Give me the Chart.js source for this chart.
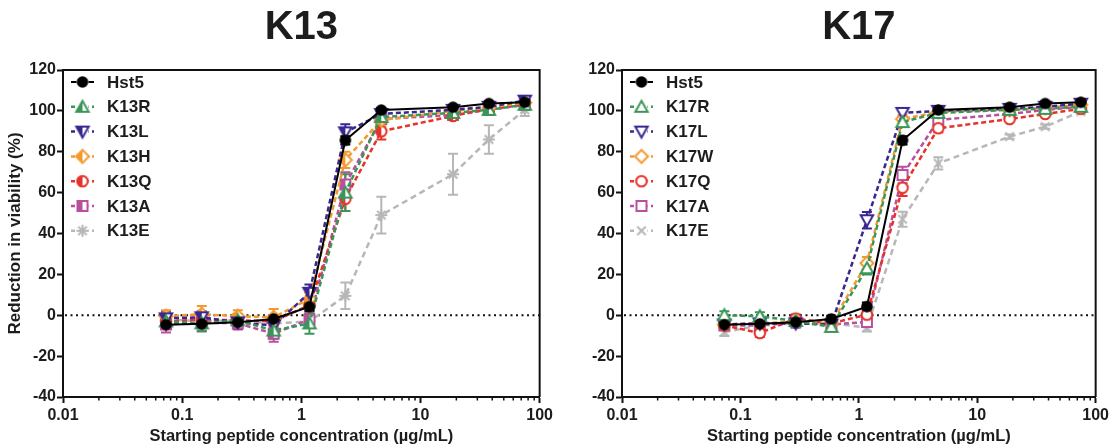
<!DOCTYPE html>
<html>
<head>
<meta charset="utf-8">
<title>Viability reduction - K13 / K17 variants</title>
<script src="https://cdn.jsdelivr.net/npm/chart.js@4"></script>
<style>
  html, body { margin: 0; padding: 0; background: #fff; }
  #wrap { position: relative; width: 1112px; height: 446px; }
  canvas { position: absolute; top: 0; }
  #k13 { left: 0; }
  #k17 { left: 556px; }
</style>
</head>
<body>
<div id="wrap">
  <canvas id="k13" width="556" height="446"></canvas>
  <canvas id="k17" width="556" height="446"></canvas>
</div>
<script>
// starting peptide concentrations (ug/mL)
var conc = [0.0732, 0.146, 0.293, 0.586, 1.17, 2.34, 4.69, 18.75, 37.5, 75];
var xTicks = [0.01, 0.1, 1, 10, 100];

// reference peptide, same in both panels
var hst5    = [-4.6, -4.2, -3.4, -1.8, 4.2, 85.6, 100.4, 101.8, 103.6, 104.2];
var hst5Err = [1.5, 1.5, 1.5, 1.5, 2, 2, 1, 1, 1, 1];

// K13 variants
var k13R    = [-3, -4, -2.5, -7.5, -4, 60, 97, 99, 100.5, 103];
var k13RErr = [3, 4, 3, 4, 5, 9, 2, 2, 2, 2];
var k13L    = [-1.5, -1, -3.5, -5, 11, 89.5, 98.5, 100.5, 102, 105];
var k13LErr = [3, 3, 3, 3, 4, 4, 2, 2, 2, 2];
var k13H    = [-0.5, 0.5, -0.5, -1, 8, 76, 95.5, 100, 101.5, 104];
var k13HErr = [3, 4, 3, 4, 3, 4, 3, 2, 2, 2];
var k13Q    = [-3, -2, -2.5, -3, 5, 57, 90, 97.5, 101, 103.5];
var k13QErr = [3, 3, 3, 3, 3, 6, 4, 2, 2, 2];
var k13A    = [-4.5, -3.5, -4, -9, -2, 64, 96, 98, 100.5, 103];
var k13AErr = [4, 4, 3, 4, 3, 6, 2, 2, 2, 2];
var k13E    = [-2, -3, -2.5, -4, -3, 9.5, 49, 69, 86, 100.5];
var k13EErr = [3, 3, 3, 3, 3, 6.5, 9, 10, 7, 3];

// K17 variants
var k17R    = [0, -0.5, -2.8, -5.7, 23, 94.5, 99, 100.5, 101, 102];
var k17RErr = [2, 2, 2, 2, 3, 2, 1, 1, 1, 1];
var k17L    = [-4.5, -4, -4, -4.5, 46.5, 99, 100, 101, 102, 103.5];
var k17LErr = [2, 2, 2, 2, 4, 2, 1, 1, 1, 1];
var k17W    = [-4.5, -4, -3, -4, 25.5, 96, 99.5, 100.5, 101.5, 103];
var k17WErr = [2, 2, 2, 2, 3, 2, 1, 1, 1, 1];
var k17Q    = [-5, -8.7, -1.6, -4, 0.3, 62.4, 91.5, 96, 98.5, 101];
var k17QErr = [2, 2, 2, 2, 2, 4, 2, 1, 1, 1];
var k17A    = [-5, -5, -3, -4.5, -3.3, 68.6, 95.6, 98.5, 100.5, 102];
var k17AErr = [2, 2, 2, 2, 2, 4, 2, 1, 1, 1];
var k17E    = [-8.2, -5, -4, -4, -6, 47, 74.3, 87.4, 92.3, 99.7];
var k17EErr = [2, 2, 2, 2, 2, 3.7, 3, 1, 1, 1];

var GREEN = '#3a9658', NAVY = '#3b2590', ORANGE = '#f29a30',
    RED = '#e5322b', PINK = '#b84f9f', GREY = '#b7b7b7', INK = '#1c1c1c';

Chart.defaults.font.family = '"Liberation Sans", Arial, sans-serif';
Chart.defaults.font.weight = 'bold';
Chart.defaults.color = INK;

// small canvas markers so points and legend share the same glyph
function marker(shape, color, half) {
  var c = document.createElement('canvas');
  c.width = 18; c.height = 18;
  var ctx = c.getContext('2d');
  ctx.translate(9, 9);
  function path() {
    ctx.beginPath();
    if (shape === 'circle') ctx.arc(0, 0, 5.3, 0, Math.PI * 2);
    else if (shape === 'square') ctx.rect(-5, -5, 10, 10);
    else if (shape === 'diamond') { ctx.moveTo(0, -6.5); ctx.lineTo(6.5, 0); ctx.lineTo(0, 6.5); ctx.lineTo(-6.5, 0); ctx.closePath(); }
    else if (shape === 'triangle') { ctx.moveTo(0, -6); ctx.lineTo(6.2, 5); ctx.lineTo(-6.2, 5); ctx.closePath(); }
    else if (shape === 'triangleDown') { ctx.moveTo(0, 6); ctx.lineTo(6.2, -5); ctx.lineTo(-6.2, -5); ctx.closePath(); }
  }
  ctx.lineWidth = 2;
  ctx.strokeStyle = color;
  ctx.fillStyle = color;
  if (shape === 'dot') {
    ctx.beginPath(); ctx.arc(0, 0, 5.8, 0, Math.PI * 2); ctx.fill();
    return c;
  }
  if (shape === 'star' || shape === 'cross') {
    var arms = shape === 'star' ? [0, 45, 90, 135] : [45, 135];
    ctx.beginPath();
    arms.forEach(function (deg) {
      var r = deg * Math.PI / 180, dx = Math.cos(r) * 6, dy = Math.sin(r) * 6;
      ctx.moveTo(-dx, -dy); ctx.lineTo(dx, dy);
    });
    ctx.stroke();
    return c;
  }
  path(); ctx.fillStyle = '#fff'; ctx.fill();
  if (half) {
    ctx.save();
    ctx.beginPath(); ctx.rect(-9, -9, 9, 18); ctx.clip();
    path(); ctx.fillStyle = color; ctx.fill();
    ctx.restore();
  }
  path(); ctx.stroke();
  return c;
}

function pts(ys) {
  return conc.map(function (c, i) { return { x: c, y: ys[i] }; });
}

function series(label, ys, err, color, shape, half, dash) {
  return {
    label: label,
    data: pts(ys),
    errors: err,
    borderColor: color,
    backgroundColor: color,
    borderWidth: dash ? 2.5 : 2,
    borderDash: dash || [],
    pointStyle: marker(shape, color, half),
    pointRadius: 6,
    tension: 0,
    fill: false
  };
}

var errorBars = {
  id: 'errorBars',
  beforeDatasetsDraw: function (chart) {
    var ctx = chart.ctx, ys = chart.scales.y;
    ctx.save();
    ctx.lineWidth = 2;
    for (var i = chart.data.datasets.length - 1; i >= 0; i--) {
      var ds = chart.data.datasets[i];
      if (!ds.errors) continue;
      ctx.strokeStyle = ds.borderColor;
      chart.getDatasetMeta(i).data.forEach(function (p, j) {
        var v = ds.data[j].y, e = ds.errors[j];
        var top = ys.getPixelForValue(v + e), bot = ys.getPixelForValue(v - e);
        ctx.beginPath();
        ctx.moveTo(p.x, top); ctx.lineTo(p.x, bot);
        ctx.moveTo(p.x - 5, top); ctx.lineTo(p.x + 5, top);
        ctx.moveTo(p.x - 5, bot); ctx.lineTo(p.x + 5, bot);
        ctx.stroke();
      });
    }
    ctx.restore();
  }
};

// zero line, box, minor log ticks, panel title and inset legend
var frame = {
  id: 'frame',
  beforeDatasetsDraw: function (chart) {
    var a = chart.chartArea, ctx = chart.ctx;
    var y0 = chart.scales.y.getPixelForValue(0);
    ctx.save();
    ctx.setLineDash([2, 3.5]);
    ctx.lineWidth = 2;
    ctx.strokeStyle = '#111';
    ctx.beginPath(); ctx.moveTo(a.left + 2, y0); ctx.lineTo(a.right, y0); ctx.stroke();
    ctx.restore();
  },
  afterDraw: function (chart, args, opts) {
    var a = chart.chartArea, ctx = chart.ctx, xs = chart.scales.x;
    ctx.save();
    ctx.strokeStyle = '#111';
    ctx.lineWidth = 2;
    ctx.beginPath();
    ctx.moveTo(a.left, a.top); ctx.lineTo(a.right, a.top); ctx.lineTo(a.right, a.bottom);
    ctx.stroke();

    ctx.lineWidth = 1.5;
    ctx.beginPath();
    for (var n = -2; n < 2; n++) {
      for (var k = 2; k < 10; k++) {
        var px = xs.getPixelForValue(k * Math.pow(10, n));
        ctx.moveTo(px, a.bottom); ctx.lineTo(px, a.bottom + 3.5);
      }
    }
    ctx.stroke();

    ctx.fillStyle = INK;
    ctx.textAlign = 'center';
    ctx.textBaseline = 'middle';
    ctx.font = 'bold 40px "Liberation Sans", Arial, sans-serif';
    ctx.fillText(opts.title, (a.left + a.right) / 2, 28);

    var lx = a.left + 8, ly = a.top + 12;
    ctx.font = 'bold 17px "Liberation Sans", Arial, sans-serif';
    ctx.textAlign = 'left';
    chart.data.datasets.forEach(function (ds, i) {
      var yy = ly + i * 24.8;
      ctx.strokeStyle = ds.borderColor;
      ctx.lineWidth = ds.borderWidth;
      ctx.setLineDash(ds.borderDash.length ? [4, 3] : []);
      ctx.beginPath(); ctx.moveTo(lx, yy); ctx.lineTo(lx + 23, yy); ctx.stroke();
      ctx.setLineDash([]);
      var img = ds.pointStyle;
      ctx.fillStyle = '#fff';
      ctx.fillRect(lx + 11.5 - 6, yy - 6, 12, 12);
      ctx.drawImage(img, lx + 11.5 - img.width / 2, yy - img.height / 2);
      ctx.fillStyle = INK;
      ctx.fillText(ds.label, lx + 36, yy + 1);
    });
    ctx.restore();
  }
};

function axisLine() {
  return {
    grid: { display: true, drawOnChartArea: false, drawTicks: true, tickLength: 6, tickWidth: 2, tickColor: '#111' },
    border: { display: true, color: '#111', width: 2 }
  };
}

function makeChart(id, title, datasets, yWidth, showYTitle) {
  var xAxis = axisLine(), yAxis = axisLine();
  xAxis.type = 'logarithmic';
  xAxis.min = 0.01;
  xAxis.max = 100;
  xAxis.afterBuildTicks = function (s) { s.ticks = xTicks.map(function (v) { return { value: v }; }); };
  xAxis.afterFit = function (s) { s.height = 49; };
  xAxis.ticks = { callback: function (v) { return String(v); }, font: { size: 16, weight: 'bold' }, padding: 3, maxRotation: 0, autoSkip: false };
  xAxis.title = { display: true, text: 'Starting peptide concentration (µg/mL)', font: { size: 16.5, weight: 'bold' }, padding: { top: 0, bottom: 0 } };

  yAxis.min = -40;
  yAxis.max = 120;
  yAxis.afterFit = function (s) { s.width = yWidth; };
  yAxis.ticks = { stepSize: 20, font: { size: 16, weight: 'bold' }, padding: 1 };
  yAxis.title = { display: showYTitle, text: 'Reduction in viability (%)', font: { size: 17, weight: 'bold' }, padding: { top: 5, bottom: 0 } };

  return new Chart(document.getElementById(id), {
    type: 'line',
    data: { datasets: datasets },
    options: {
      responsive: false,
      animation: false,
      devicePixelRatio: 1,
      layout: { padding: { top: 70, right: 15, left: 0, bottom: 0 } },
      plugins: {
        legend: { display: false },
        tooltip: { enabled: false },
        frame: { title: title }
      },
      scales: { x: xAxis, y: yAxis }
    },
    plugins: [errorBars, frame]
  });
}

var dash = [5, 3];

makeChart('k13', 'K13', [
  series('Hst5', hst5, hst5Err, '#000', 'dot', false, null),
  series('K13R', k13R, k13RErr, GREEN, 'triangle', true, dash),
  series('K13L', k13L, k13LErr, NAVY, 'triangleDown', true, dash),
  series('K13H', k13H, k13HErr, ORANGE, 'diamond', true, dash),
  series('K13Q', k13Q, k13QErr, RED, 'circle', true, dash),
  series('K13A', k13A, k13AErr, PINK, 'square', true, dash),
  series('K13E', k13E, k13EErr, GREY, 'star', false, [6, 4])
], 63, true);

makeChart('k17', 'K17', [
  series('Hst5', hst5, hst5Err, '#000', 'dot', false, null),
  series('K17R', k17R, k17RErr, GREEN, 'triangle', false, dash),
  series('K17L', k17L, k17LErr, NAVY, 'triangleDown', false, dash),
  series('K17W', k17W, k17WErr, ORANGE, 'diamond', false, dash),
  series('K17Q', k17Q, k17QErr, RED, 'circle', false, dash),
  series('K17A', k17A, k17AErr, PINK, 'square', false, dash),
  series('K17E', k17E, k17EErr, GREY, 'cross', false, [6, 4])
], 66, false);
</script>
</body>
</html>
